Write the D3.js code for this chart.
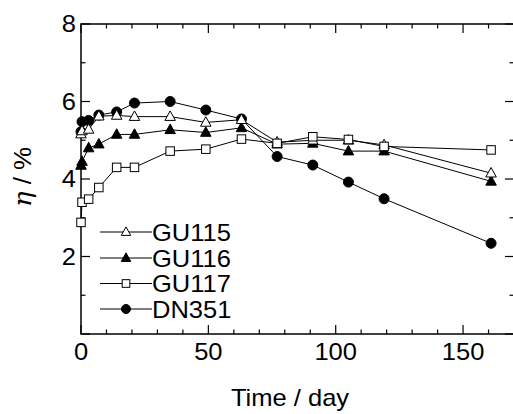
<!DOCTYPE html>
<html>
<head>
<meta charset="utf-8">
<script src="https://cdn.jsdelivr.net/npm/d3@7"></script>
<style>
  html, body { margin: 0; padding: 0; background: #fff; }
  svg { display: block; }
  text { font-family: "Liberation Sans", Arial, sans-serif; fill: #000; }
</style>
</head>
<body>
<svg id="chart" width="513" height="414"></svg>
<script>
// Sampling days (two readings were taken on the first day)
const days = [0, 0.4, 3, 7, 14, 21, 35, 49, 63, 77, 91, 105, 119, 161];

// Efficiency η (%) for each cell
const gu115 = [5.16, 5.24, 5.28, 5.62, 5.64, 5.61, 5.61, 5.46, 5.53, 4.95, 5.00, 5.00, 4.88, 4.15];
const gu116 = [4.35, 4.45, 4.80, 4.90, 5.15, 5.15, 5.27, 5.20, 5.32, 4.90, 4.92, 4.72, 4.72, 3.94];
const gu117 = [2.88, 3.40, 3.48, 3.78, 4.30, 4.30, 4.72, 4.77, 5.03, 4.92, 5.09, 5.02, 4.84, 4.75];
const dn351 = [5.22, 5.48, 5.51, 5.65, 5.73, 5.96, 6.00, 5.78, 5.55, 4.58, 4.36, 3.92, 3.49, 2.34];

const seriesNames = ["GU115", "GU116", "GU117", "DN351"];
const xTicks = [0, 50, 100, 150];
const yTicks = [2, 4, 6, 8];

const series = [
  { name: seriesNames[0], values: gu115, shape: "triangle", fill: "#fff" },
  { name: seriesNames[1], values: gu116, shape: "triangle", fill: "#000" },
  { name: seriesNames[2], values: gu117, shape: "square", fill: "#fff" },
  { name: seriesNames[3], values: dn351, shape: "circle", fill: "#000" }
];

const svg = d3.select("#chart");
const plotL = 81, plotR = 514, plotT = 24, plotB = 334;

const x = d3.scaleLinear().domain([0, 170]).range([plotL, plotR]);
const y = d3.scaleLinear().domain([0, 8]).range([plotB, plotT]);

const fs = 23;
const stretch = 1.11;

// Text with the slightly wide letterforms used throughout the figure
function label(parent, tx, ty, str, anchor) {
  return parent.append("text")
    .attr("transform", `translate(${tx},${ty}) scale(${stretch},1)`)
    .attr("text-anchor", anchor || "start")
    .attr("font-size", fs)
    .text(str);
}

// Frame with inward ticks
const frame = svg.append("g");
frame.append("rect")
  .attr("x", plotL).attr("y", plotT)
  .attr("width", plotR - plotL).attr("height", plotB - plotT)
  .attr("fill", "none").attr("stroke", "#000").attr("stroke-width", 1.5);

const xAll = d3.range(0, 171, 10);
const yAll = d3.range(0, 9, 1);
xAll.forEach(v => {
  const len = v % 50 === 0 ? 9 : 4.5;
  frame.append("line").attr("x1", x(v)).attr("x2", x(v))
    .attr("y1", plotB).attr("y2", plotB - len).attr("stroke", "#000").attr("stroke-width", 1.2);
  frame.append("line").attr("x1", x(v)).attr("x2", x(v))
    .attr("y1", plotT).attr("y2", plotT + len).attr("stroke", "#000").attr("stroke-width", 1.2);
});
yAll.forEach(v => {
  const len = v % 2 === 0 ? 9 : 4.5;
  frame.append("line").attr("x1", plotL).attr("x2", plotL + len)
    .attr("y1", y(v)).attr("y2", y(v)).attr("stroke", "#000").attr("stroke-width", 1.2);
  frame.append("line").attr("x1", plotR).attr("x2", plotR - len)
    .attr("y1", y(v)).attr("y2", y(v)).attr("stroke", "#000").attr("stroke-width", 1.2);
});

// Tick labels
const xl = svg.append("g");
xTicks.forEach(d => label(xl, x(d), plotB + 26, d, "middle"));
const ylab = svg.append("g");
yTicks.forEach(d => label(ylab, plotL - 5, y(d) + 8, d, "end"));

// Axis titles
label(svg, 290, 406, "Time / day", "middle");
const yl = svg.append("text")
  .attr("transform", "translate(31,177) rotate(-90) scale(1.08,1)")
  .attr("text-anchor", "middle").attr("font-size", fs + 1);
yl.append("tspan").attr("font-style", "italic").attr("font-family", "DejaVu Serif, serif").text("η");
yl.append("tspan").text(" / %");

// Marker drawing
function drawMarker(g, shape, fill, cx, cy, s) {
  if (shape === "circle") {
    g.append("circle").attr("cx", cx).attr("cy", cy).attr("r", s * 0.5)
      .attr("fill", fill).attr("stroke", "#000").attr("stroke-width", 1);
  } else if (shape === "square") {
    const h = s * 0.85;
    g.append("rect").attr("x", cx - h / 2).attr("y", cy - h / 2)
      .attr("width", h).attr("height", h)
      .attr("fill", fill).attr("stroke", "#000").attr("stroke-width", 1);
  } else {
    const w = s * 1.05, h = s * 0.95;
    g.append("path")
      .attr("d", `M${cx},${cy - h * 0.6}L${cx + w / 2},${cy + h * 0.4}L${cx - w / 2},${cy + h * 0.4}Z`)
      .attr("fill", fill).attr("stroke", "#000").attr("stroke-width", 1);
  }
}

const line = d3.line().x((d, i) => x(days[i])).y(d => y(d));

// Draw order: DN351 underneath, then GU116, GU115, GU117 on top
const order = [3, 1, 0, 2];
order.forEach(k => {
  const s = series[k];
  const g = svg.append("g");
  g.append("path").datum(s.values).attr("d", line)
    .attr("fill", "none").attr("stroke", "#000").attr("stroke-width", 1);
  s.values.forEach((v, i) => drawMarker(g, s.shape, s.fill, x(days[i]), y(v), 10));
});

// Legend
const legRows = [232, 258, 283.5, 309];
series.forEach((s, i) => {
  const g = svg.append("g");
  const yy = legRows[i];
  g.append("line").attr("x1", 100).attr("x2", 152).attr("y1", yy).attr("y2", yy)
    .attr("stroke", "#000").attr("stroke-width", 1);
  drawMarker(g, s.shape, s.fill, 126, yy, 9);
  label(g, 152, yy + 8.5, s.name, "start");
});
</script>
</body>
</html>
